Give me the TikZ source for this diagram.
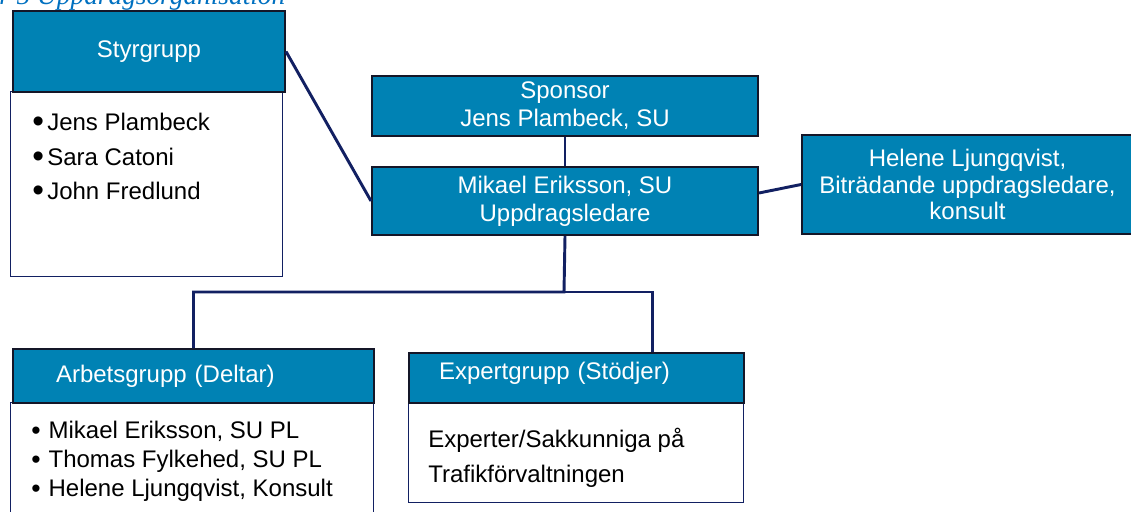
\documentclass[tikz,border=0pt]{standalone}
\usepackage{fontspec}
\setmainfont{Liberation Sans}
\newfontfamily\capfont{Liberation Serif}
\usetikzlibrary{positioning}
\definecolor{boxblue}{RGB}{0,130,180}
\definecolor{linenavy}{RGB}{18,32,98}
\definecolor{edgedark}{RGB}{20,22,40}
\definecolor{capblue}{RGB}{0,112,192}
\def\u{0.75pt}
\newcommand\bigbul{\raisebox{-1.5pt}{\fontsize{25}{0}\selectfont\textbullet}\hspace{2.5pt}}
\newcommand\smallbul{\raisebox{-0.5pt}{\fontsize{20}{0}\selectfont\textbullet}\hspace{6pt}}
\begin{document}
\begin{tikzpicture}[x=0.75pt,y=-0.75pt,
    hdr/.style={draw=edgedark,line width=1.5pt,fill=boxblue,text=white,anchor=north west,
      inner sep=0pt,align=center,font=\fontsize{18}{21}\selectfont},
    bodybox/.style={draw=linenavy,line width=1.1pt,fill=white,anchor=north west,inner sep=0pt},
    list/.style={anchor=north west,inner sep=0pt,align=left},
    link/.style={draw=linenavy,line width=2.2pt}]
    \useasboundingbox (0,0) rectangle (1131,511);
    \clip (0,0) rectangle (1131,511);
    \node[anchor=base west,inner sep=0pt,text=capblue,font=\capfont\itshape\fontsize{20.5}{24}\selectfont]
      (caption) at (-1,4) {r 5 Uppdragsorganisation};
    % styrgrupp
    \node[bodybox,minimum width=272*\u,minimum height=185*\u] (styrbody) at (10,91) {};
    \node[hdr,minimum width=272*\u,minimum height=81*\u] (styr) at (12,10) {Styrgrupp};
    \node[list,font=\fontsize{18}{26}\selectfont] (styrlist) at (32,113)
      {\bigbul Jens Plambeck\\ \bigbul Sara Catoni\\ \bigbul John Fredlund};
    % mitten
    \node[hdr,minimum width=386*\u,minimum height=60*\u] (sponsor) at (371,75) {Sponsor\\Jens Plambeck, SU};
    \node[hdr,minimum width=386*\u,minimum height=68*\u] (mikael) at (371,166) {Mikael Eriksson, SU\\Uppdragsledare};
    \node[hdr,minimum width=331*\u,minimum height=99*\u,font=\fontsize{18}{20}\selectfont] (helene) at (801,134)
      {Helene Ljungqvist,\\Biträdande uppdragsledare,\\konsult};
    % grupper
    \node[bodybox,minimum width=363*\u,minimum height=130*\u] (arbbody) at (10,402) {};
    \node[hdr,minimum height=54*\u,inner xsep=43*\u,text width=275*\u,align=left] (arb) at (12,348) {Arbetsgrupp (Deltar)};
    \node[list,font=\fontsize{18}{21.75}\selectfont] (arblist) at (31,421)
      {\smallbul Mikael Eriksson, SU PL\\ \smallbul Thomas Fylkehed, SU PL\\ \smallbul Helene Ljungqvist, Konsult};
    \node[bodybox,minimum width=335*\u,minimum height=100*\u] (expbody) at (408,402) {};
    \node[hdr,minimum height=50*\u,inner xsep=30*\u,text width=275*\u,align=left,text depth=11pt] (exp) at (408,352)
      {Expertgrupp (Stödjer)};
    \node[list,font=\fontsize{18}{26.25}\selectfont] (explist) at (428,428)
      {Experter/Sakkunniga på\\Trafikförvaltningen};
    % linjer
    \coordinate (split) at (564,292);
    \draw[link] (styr.east) -- (mikael.west);
    \draw[link] (sponsor.south) -- (mikael.north);
    \draw[link] ([yshift=6pt]mikael.east) -- (helene.west);
    \draw[link] (mikael.south) -- (split) -| (arb.north);
    \draw[link] (split) -| ([xshift=57pt]exp.north);
\end{tikzpicture}
\end{document}
